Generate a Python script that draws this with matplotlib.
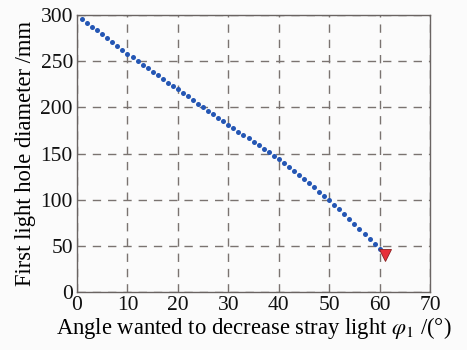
import numpy as np
import matplotlib.pyplot as plt

# angle phi_1 (deg) and first light hole diameter (mm)
angle = list(range(1, 61))
diameter = [295.5, 291.5, 287.5, 283.3, 279.1, 275.0, 270.8, 266.6, 262.3, 258.2,
            254.2, 250.3, 246.4, 242.5, 238.6, 234.7, 230.8, 227.0, 223.2, 219.5,
            215.7, 211.9, 208.0, 204.1, 200.2, 196.4, 192.6, 188.8, 185.0, 181.2,
            177.5, 173.8, 170.1, 166.4, 162.7, 159.0, 155.2, 151.4, 147.6, 143.8,
            139.7, 135.6, 131.4, 127.1, 122.7, 118.2, 113.6, 109.0, 104.3, 99.6,
            94.6, 89.6, 84.6, 79.4, 74.1, 68.7, 63.2, 57.6, 52.0, 46.3]

# the chosen (limit) point
limit_angle = [61]
limit_diam = [40]

xticks = [0, 10, 20, 30, 40, 50, 60, 70]
yticks = [0, 50, 100, 150, 200, 250, 300]

plt.rcParams['font.family'] = ['Liberation Serif', 'DejaVu Serif']
plt.rcParams['mathtext.fontset'] = 'stix'

fig = plt.figure(figsize=(4.67, 3.5), dpi=100)
fig.patch.set_facecolor('#fbfbfb')
ax = fig.add_axes([0.165, 0.165, 0.756, 0.792])
ax.set_facecolor('#fbfbfb')

ax.plot(angle, diameter, 'o', color='#2456b4', markersize=3.6, markeredgewidth=0, zorder=3)
ax.plot(limit_angle, limit_diam, 'v', color='#e8303a', markeredgecolor='#8a2020',
        markeredgewidth=0.6, markersize=8.5, zorder=4)

ax.set_xlim(0, 70)
ax.set_ylim(0, 300)
ax.set_xticks(xticks)
ax.set_yticks(yticks)
ax.grid(True, color='#7a7370', linestyle=(0, (6, 5)), linewidth=1.0)
ax.set_axisbelow(True)
for s in ax.spines.values():
    s.set_color('#6a6462')
    s.set_linewidth(1.0)
ax.tick_params(direction='in', length=0, labelsize=15.5, pad=3, colors='#111111')

ax.set_xlabel('Angle wanted to decrease stray light $\\varphi_1$ /(°)', fontsize=16.3, labelpad=0)
ax.set_ylabel('First light hole diameter /mm', fontsize=16.3, labelpad=3)

fig.savefig('out.png', dpi=100, facecolor=fig.get_facecolor())
